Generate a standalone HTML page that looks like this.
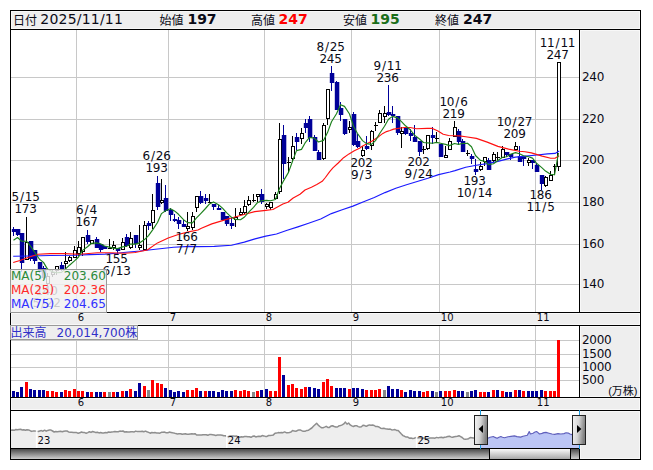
<!DOCTYPE html>
<html lang="ja"><head><meta charset="utf-8"><title>Chart</title>
<style>html,body{margin:0;padding:0;background:#fff}svg{display:block}text{font-family:'DejaVu Sans','Liberation Sans','Noto Sans CJK JP',sans-serif}.j{font-family:'Liberation Sans','Noto Sans CJK JP',sans-serif}.cr{shape-rendering:crispEdges}</style></head><body>
<svg width="653" height="470" viewBox="0 0 653 470" fill="#0a0a16">
<defs>
<linearGradient id="gt" x1="0" y1="0" x2="0" y2="1"><stop offset="0" stop-color="#4a4a4a"/><stop offset="1" stop-color="#cfcfcf"/></linearGradient>
<linearGradient id="gth" x1="0" y1="0" x2="0" y2="1"><stop offset="0" stop-color="#fafafa"/><stop offset="1" stop-color="#a8a8a8"/></linearGradient>
<linearGradient id="gh" x1="0" y1="0" x2="1" y2="0.2"><stop offset="0" stop-color="#f6f6f6"/><stop offset="0.5" stop-color="#d6d6d6"/><stop offset="1" stop-color="#7e7e7e"/></linearGradient>
<clipPath id="cm"><rect x="11" y="30" width="568" height="282"/></clipPath>
</defs>
<rect width="653" height="470" fill="#fff"/>
<g class="cr">
<rect x="10" y="10" width="631" height="450" fill="#000"/>
<rect x="11" y="11" width="629" height="18" fill="#eee"/>
<rect x="11" y="30" width="568" height="282" fill="#fff"/>
<rect x="580" y="30" width="60" height="282" fill="#eee"/>
<rect x="11" y="313" width="629" height="12" fill="#eee"/>
<rect x="11" y="326" width="568" height="71" fill="#fff"/>
<rect x="580" y="326" width="60" height="71" fill="#eee"/>
<rect x="11" y="398" width="629" height="12" fill="#eee"/>
<rect x="11" y="411" width="568" height="37" fill="#fff"/>
<rect x="580" y="411" width="60" height="48" fill="#eee"/>
<rect x="11" y="449" width="568" height="10" fill="url(#gt)"/>
</g>
<g class="cr" fill="none" stroke="#fff" stroke-opacity="0.6">
<rect x="11.5" y="11.5" width="628" height="17"/>
<rect x="580.5" y="30.5" width="59" height="281"/>
<rect x="11.5" y="313.5" width="628" height="11"/>
<rect x="580.5" y="326.5" width="59" height="70"/>
<rect x="11.5" y="398.5" width="628" height="11"/>
<rect x="580.5" y="411.5" width="59" height="47"/>
</g>
<g class="cr" fill="#c8c8c8">
<rect x="11" y="77" width="568" height="1"/>
<rect x="11" y="119" width="568" height="1"/>
<rect x="11" y="160" width="568" height="1"/>
<rect x="11" y="202" width="568" height="1"/>
<rect x="11" y="244" width="568" height="1"/>
<rect x="11" y="284" width="568" height="1"/>
<rect x="11" y="380" width="568" height="1"/>
<rect x="11" y="367" width="568" height="1"/>
<rect x="11" y="354" width="568" height="1"/>
<rect x="11" y="340" width="568" height="1"/>
<rect x="76" y="30" width="1" height="282"/>
<rect x="76" y="326" width="1" height="71"/>
<rect x="168" y="30" width="1" height="282"/>
<rect x="168" y="326" width="1" height="71"/>
<rect x="264" y="30" width="1" height="282"/>
<rect x="264" y="326" width="1" height="71"/>
<rect x="351" y="30" width="1" height="282"/>
<rect x="351" y="326" width="1" height="71"/>
<rect x="439" y="30" width="1" height="282"/>
<rect x="439" y="326" width="1" height="71"/>
<rect x="535" y="30" width="1" height="282"/>
<rect x="535" y="326" width="1" height="71"/>
</g>
<g class="cr" clip-path="url(#cm)">
<rect x="13" y="227" width="1" height="9" fill="#000099"/>
<rect x="11.8" y="229" width="4.5" height="3" fill="#000099" shape-rendering="auto"/>
<rect x="17" y="229" width="1" height="7" fill="#000099"/>
<rect x="15.8" y="229" width="4.5" height="6" fill="#000099" shape-rendering="auto"/>
<rect x="21" y="233" width="1" height="39" fill="#000099"/>
<rect x="19.8" y="233" width="4.5" height="30" fill="#000099" shape-rendering="auto"/>
<rect x="26" y="217" width="1" height="43" fill="#000"/>
<rect x="25" y="242" width="4" height="18" fill="#000"/>
<rect x="26" y="243" width="2" height="16" fill="#fff"/>
<rect x="30" y="241" width="1" height="20" fill="#000099"/>
<rect x="28.8" y="241" width="4.5" height="18" fill="#000099" shape-rendering="auto"/>
<rect x="34" y="250" width="1" height="14" fill="#000099"/>
<rect x="32.8" y="250" width="4.5" height="11" fill="#000099" shape-rendering="auto"/>
<rect x="39" y="262" width="1" height="11" fill="#000099"/>
<rect x="37.8" y="262" width="4.5" height="10" fill="#000099" shape-rendering="auto"/>
<rect x="43" y="266" width="1" height="13" fill="#000099"/>
<rect x="41.8" y="268" width="4.5" height="10" fill="#000099" shape-rendering="auto"/>
<rect x="47" y="273" width="1" height="12" fill="#000"/>
<rect x="46" y="276" width="4" height="8" fill="#000"/>
<rect x="47" y="277" width="2" height="6" fill="#fff"/>
<rect x="52" y="270" width="1" height="7" fill="#000"/>
<rect x="51" y="272" width="4" height="3" fill="#000"/>
<rect x="52" y="273" width="2" height="1" fill="#fff"/>
<rect x="56" y="266" width="1" height="9" fill="#000"/>
<rect x="55" y="266" width="4" height="5" fill="#000"/>
<rect x="56" y="267" width="2" height="3" fill="#fff"/>
<rect x="61" y="262" width="1" height="9" fill="#000099"/>
<rect x="59.8" y="265" width="4.5" height="5" fill="#000099" shape-rendering="auto"/>
<rect x="65" y="252" width="1" height="17" fill="#000"/>
<rect x="64" y="261" width="4" height="3" fill="#000"/>
<rect x="65" y="262" width="2" height="1" fill="#fff"/>
<rect x="69" y="256" width="1" height="6" fill="#000"/>
<rect x="68" y="257" width="4" height="4" fill="#000"/>
<rect x="69" y="258" width="2" height="2" fill="#fff"/>
<rect x="74" y="246" width="1" height="12" fill="#000"/>
<rect x="73" y="250" width="4" height="8" fill="#000"/>
<rect x="74" y="251" width="2" height="6" fill="#fff"/>
<rect x="78" y="241" width="1" height="15" fill="#000"/>
<rect x="77" y="247" width="4" height="7" fill="#000"/>
<rect x="78" y="248" width="2" height="5" fill="#fff"/>
<rect x="82" y="237" width="1" height="19" fill="#000"/>
<rect x="81" y="237" width="4" height="15" fill="#000"/>
<rect x="82" y="238" width="2" height="13" fill="#fff"/>
<rect x="87" y="230" width="1" height="14" fill="#000099"/>
<rect x="85.8" y="235" width="4.5" height="7" fill="#000099" shape-rendering="auto"/>
<rect x="91" y="240" width="1" height="4" fill="#000"/>
<rect x="90" y="240" width="4" height="4" fill="#000"/>
<rect x="91" y="241" width="2" height="2" fill="#fff"/>
<rect x="96" y="237" width="1" height="11" fill="#000099"/>
<rect x="94.8" y="239" width="4.5" height="9" fill="#000099" shape-rendering="auto"/>
<rect x="100" y="244" width="1" height="8" fill="#000099"/>
<rect x="98.8" y="244" width="4.5" height="6" fill="#000099" shape-rendering="auto"/>
<rect x="104" y="246" width="1" height="3" fill="#000099"/>
<rect x="102.8" y="246" width="4.5" height="3" fill="#000099" shape-rendering="auto"/>
<rect x="109" y="239" width="1" height="10" fill="#000"/>
<rect x="108" y="248" width="4" height="1" fill="#000"/>
<rect x="113" y="241" width="1" height="9" fill="#000"/>
<rect x="112" y="245" width="4" height="3" fill="#000"/>
<rect x="113" y="246" width="2" height="1" fill="#fff"/>
<rect x="117" y="248" width="1" height="6" fill="#000099"/>
<rect x="115.8" y="248" width="4.5" height="3" fill="#000099" shape-rendering="auto"/>
<rect x="122" y="238" width="1" height="12" fill="#000"/>
<rect x="121" y="242" width="4" height="8" fill="#000"/>
<rect x="122" y="243" width="2" height="6" fill="#fff"/>
<rect x="126" y="234" width="1" height="13" fill="#000099"/>
<rect x="124.8" y="237" width="4.5" height="9" fill="#000099" shape-rendering="auto"/>
<rect x="130" y="232" width="1" height="17" fill="#000"/>
<rect x="129" y="238" width="4" height="10" fill="#000"/>
<rect x="130" y="239" width="2" height="8" fill="#fff"/>
<rect x="135" y="235" width="1" height="13" fill="#000099"/>
<rect x="133.8" y="235" width="4.5" height="9" fill="#000099" shape-rendering="auto"/>
<rect x="139" y="225" width="1" height="25" fill="#000"/>
<rect x="138" y="245" width="4" height="3" fill="#000"/>
<rect x="139" y="246" width="2" height="1" fill="#fff"/>
<rect x="144" y="221" width="1" height="29" fill="#000"/>
<rect x="143" y="225" width="4" height="25" fill="#000"/>
<rect x="144" y="226" width="2" height="23" fill="#fff"/>
<rect x="148" y="221" width="1" height="9" fill="#000099"/>
<rect x="146.8" y="223" width="4.5" height="3" fill="#000099" shape-rendering="auto"/>
<rect x="152" y="194" width="1" height="35" fill="#000"/>
<rect x="151" y="210" width="4" height="13" fill="#000"/>
<rect x="152" y="211" width="2" height="11" fill="#fff"/>
<rect x="157" y="176" width="1" height="34" fill="#000099"/>
<rect x="155.8" y="183" width="4.5" height="24" fill="#000099" shape-rendering="auto"/>
<rect x="161" y="179" width="1" height="25" fill="#000"/>
<rect x="160" y="200" width="4" height="3" fill="#000"/>
<rect x="161" y="201" width="2" height="1" fill="#fff"/>
<rect x="165" y="185" width="1" height="27" fill="#000099"/>
<rect x="163.8" y="198" width="4.5" height="13" fill="#000099" shape-rendering="auto"/>
<rect x="170" y="208" width="1" height="13" fill="#000099"/>
<rect x="168.8" y="210" width="4.5" height="5" fill="#000099" shape-rendering="auto"/>
<rect x="174" y="214" width="1" height="8" fill="#000099"/>
<rect x="172.8" y="219" width="4.5" height="2" fill="#000099" shape-rendering="auto"/>
<rect x="178" y="217" width="1" height="12" fill="#000099"/>
<rect x="176.8" y="220" width="4.5" height="4" fill="#000099" shape-rendering="auto"/>
<rect x="183" y="220" width="1" height="7" fill="#000099"/>
<rect x="181.8" y="224" width="4.5" height="3" fill="#000099" shape-rendering="auto"/>
<rect x="187" y="212" width="1" height="19" fill="#000"/>
<rect x="186" y="226" width="4" height="3" fill="#000"/>
<rect x="187" y="227" width="2" height="1" fill="#fff"/>
<rect x="192" y="212" width="1" height="18" fill="#000"/>
<rect x="191" y="216" width="4" height="12" fill="#000"/>
<rect x="192" y="217" width="2" height="10" fill="#fff"/>
<rect x="196" y="196" width="1" height="16" fill="#000"/>
<rect x="195" y="196" width="4" height="12" fill="#000"/>
<rect x="196" y="197" width="2" height="10" fill="#fff"/>
<rect x="200" y="191" width="1" height="13" fill="#000099"/>
<rect x="198.8" y="196" width="4.5" height="7" fill="#000099" shape-rendering="auto"/>
<rect x="205" y="194" width="1" height="10" fill="#000099"/>
<rect x="203.8" y="198" width="4.5" height="3" fill="#000099" shape-rendering="auto"/>
<rect x="209" y="194" width="1" height="9" fill="#000"/>
<rect x="208" y="202" width="4" height="1" fill="#000"/>
<rect x="213" y="204" width="1" height="6" fill="#000099"/>
<rect x="211.8" y="204" width="4.5" height="3" fill="#000099" shape-rendering="auto"/>
<rect x="218" y="205" width="1" height="5" fill="#000099"/>
<rect x="216.8" y="208" width="4.5" height="2" fill="#000099" shape-rendering="auto"/>
<rect x="222" y="212" width="1" height="8" fill="#000099"/>
<rect x="220.8" y="212" width="4.5" height="8" fill="#000099" shape-rendering="auto"/>
<rect x="226" y="216" width="1" height="10" fill="#000099"/>
<rect x="224.8" y="216" width="4.5" height="8" fill="#000099" shape-rendering="auto"/>
<rect x="231" y="218" width="1" height="11" fill="#000099"/>
<rect x="229.8" y="223" width="4.5" height="3" fill="#000099" shape-rendering="auto"/>
<rect x="235" y="208" width="1" height="19" fill="#000"/>
<rect x="234" y="217" width="4" height="3" fill="#000"/>
<rect x="235" y="218" width="2" height="1" fill="#fff"/>
<rect x="240" y="208" width="1" height="8" fill="#000"/>
<rect x="239" y="212" width="4" height="3" fill="#000"/>
<rect x="240" y="213" width="2" height="1" fill="#fff"/>
<rect x="244" y="200" width="1" height="14" fill="#000"/>
<rect x="243" y="206" width="4" height="7" fill="#000"/>
<rect x="244" y="207" width="2" height="5" fill="#fff"/>
<rect x="248" y="196" width="1" height="10" fill="#000"/>
<rect x="247" y="200" width="4" height="5" fill="#000"/>
<rect x="248" y="201" width="2" height="3" fill="#fff"/>
<rect x="253" y="194" width="1" height="8" fill="#000"/>
<rect x="252" y="200" width="4" height="1" fill="#000"/>
<rect x="257" y="194" width="1" height="8" fill="#000"/>
<rect x="256" y="194" width="4" height="3" fill="#000"/>
<rect x="257" y="195" width="2" height="1" fill="#fff"/>
<rect x="261" y="189" width="1" height="15" fill="#000099"/>
<rect x="259.8" y="194" width="4.5" height="8" fill="#000099" shape-rendering="auto"/>
<rect x="266" y="203" width="1" height="6" fill="#000"/>
<rect x="265" y="204" width="4" height="3" fill="#000"/>
<rect x="266" y="205" width="2" height="1" fill="#fff"/>
<rect x="270" y="202" width="1" height="8" fill="#000"/>
<rect x="269" y="202" width="4" height="6" fill="#000"/>
<rect x="270" y="203" width="2" height="4" fill="#fff"/>
<rect x="275" y="192" width="1" height="8" fill="#000"/>
<rect x="274" y="194" width="4" height="5" fill="#000"/>
<rect x="275" y="195" width="2" height="3" fill="#fff"/>
<rect x="279" y="123" width="1" height="71" fill="#000"/>
<rect x="278" y="139" width="4" height="53" fill="#000"/>
<rect x="279" y="140" width="2" height="51" fill="#fff"/>
<rect x="283" y="125" width="1" height="54" fill="#000099"/>
<rect x="281.8" y="135" width="4.5" height="29" fill="#000099" shape-rendering="auto"/>
<rect x="288" y="157" width="1" height="15" fill="#000"/>
<rect x="287" y="162" width="4" height="1" fill="#000"/>
<rect x="292" y="136" width="1" height="26" fill="#000"/>
<rect x="291" y="146" width="4" height="13" fill="#000"/>
<rect x="292" y="147" width="2" height="11" fill="#fff"/>
<rect x="296" y="133" width="1" height="17" fill="#000099"/>
<rect x="294.8" y="137" width="4.5" height="5" fill="#000099" shape-rendering="auto"/>
<rect x="301" y="128" width="1" height="16" fill="#000"/>
<rect x="300" y="133" width="4" height="6" fill="#000"/>
<rect x="301" y="134" width="2" height="4" fill="#fff"/>
<rect x="305" y="119" width="1" height="14" fill="#000099"/>
<rect x="303.8" y="123" width="4.5" height="5" fill="#000099" shape-rendering="auto"/>
<rect x="309" y="116" width="1" height="26" fill="#000099"/>
<rect x="307.8" y="119" width="4.5" height="19" fill="#000099" shape-rendering="auto"/>
<rect x="314" y="135" width="1" height="16" fill="#000099"/>
<rect x="312.8" y="137" width="4.5" height="14" fill="#000099" shape-rendering="auto"/>
<rect x="318" y="150" width="1" height="10" fill="#000099"/>
<rect x="316.8" y="152" width="4.5" height="8" fill="#000099" shape-rendering="auto"/>
<rect x="323" y="123" width="1" height="37" fill="#000"/>
<rect x="322" y="125" width="4" height="34" fill="#000"/>
<rect x="323" y="126" width="2" height="32" fill="#fff"/>
<rect x="327" y="89" width="1" height="36" fill="#000"/>
<rect x="326" y="89" width="4" height="30" fill="#000"/>
<rect x="327" y="90" width="2" height="28" fill="#fff"/>
<rect x="331" y="66" width="1" height="25" fill="#000099"/>
<rect x="329.8" y="73" width="4.5" height="10" fill="#000099" shape-rendering="auto"/>
<rect x="336" y="81" width="1" height="29" fill="#000099"/>
<rect x="334.8" y="82" width="4.5" height="28" fill="#000099" shape-rendering="auto"/>
<rect x="340" y="102" width="1" height="19" fill="#000099"/>
<rect x="338.8" y="108" width="4.5" height="7" fill="#000099" shape-rendering="auto"/>
<rect x="344" y="119" width="1" height="16" fill="#000099"/>
<rect x="342.8" y="119" width="4.5" height="15" fill="#000099" shape-rendering="auto"/>
<rect x="349" y="121" width="1" height="12" fill="#000"/>
<rect x="348" y="127" width="4" height="3" fill="#000"/>
<rect x="349" y="128" width="2" height="1" fill="#fff"/>
<rect x="353" y="112" width="1" height="34" fill="#000099"/>
<rect x="351.8" y="114" width="4.5" height="31" fill="#000099" shape-rendering="auto"/>
<rect x="357" y="134" width="1" height="14" fill="#000099"/>
<rect x="355.8" y="141" width="4.5" height="6" fill="#000099" shape-rendering="auto"/>
<rect x="362" y="146" width="1" height="11" fill="#000"/>
<rect x="361" y="150" width="4" height="6" fill="#000"/>
<rect x="362" y="151" width="2" height="4" fill="#fff"/>
<rect x="366" y="136" width="1" height="14" fill="#000099"/>
<rect x="364.8" y="146" width="4.5" height="3" fill="#000099" shape-rendering="auto"/>
<rect x="371" y="130" width="1" height="20" fill="#000"/>
<rect x="370" y="131" width="4" height="15" fill="#000"/>
<rect x="371" y="132" width="2" height="13" fill="#fff"/>
<rect x="375" y="122" width="1" height="9" fill="#000"/>
<rect x="374" y="125" width="4" height="1" fill="#000"/>
<rect x="379" y="110" width="1" height="13" fill="#000"/>
<rect x="378" y="113" width="4" height="10" fill="#000"/>
<rect x="379" y="114" width="2" height="8" fill="#fff"/>
<rect x="384" y="106" width="1" height="17" fill="#000"/>
<rect x="383" y="113" width="4" height="4" fill="#000"/>
<rect x="384" y="114" width="2" height="2" fill="#fff"/>
<rect x="388" y="85" width="1" height="31" fill="#000099"/>
<rect x="386.8" y="112" width="4.5" height="3" fill="#000099" shape-rendering="auto"/>
<rect x="392" y="106" width="1" height="17" fill="#000099"/>
<rect x="390.8" y="114" width="4.5" height="2" fill="#000099" shape-rendering="auto"/>
<rect x="397" y="116" width="1" height="19" fill="#000099"/>
<rect x="395.8" y="116" width="4.5" height="17" fill="#000099" shape-rendering="auto"/>
<rect x="401" y="127" width="1" height="21" fill="#000"/>
<rect x="400" y="131" width="4" height="3" fill="#000"/>
<rect x="401" y="132" width="2" height="1" fill="#fff"/>
<rect x="405" y="127" width="1" height="8" fill="#000099"/>
<rect x="403.8" y="127" width="4.5" height="7" fill="#000099" shape-rendering="auto"/>
<rect x="410" y="129" width="1" height="12" fill="#000099"/>
<rect x="408.8" y="133" width="4.5" height="3" fill="#000099" shape-rendering="auto"/>
<rect x="414" y="125" width="1" height="17" fill="#000099"/>
<rect x="412.8" y="137" width="4.5" height="5" fill="#000099" shape-rendering="auto"/>
<rect x="419" y="141" width="1" height="15" fill="#000099"/>
<rect x="417.8" y="141" width="4.5" height="11" fill="#000099" shape-rendering="auto"/>
<rect x="423" y="146" width="1" height="8" fill="#000"/>
<rect x="422" y="149" width="4" height="1" fill="#000"/>
<rect x="427" y="135" width="1" height="15" fill="#000"/>
<rect x="426" y="135" width="4" height="14" fill="#000"/>
<rect x="427" y="136" width="2" height="12" fill="#fff"/>
<rect x="432" y="127" width="1" height="17" fill="#000099"/>
<rect x="430.8" y="135" width="4.5" height="3" fill="#000099" shape-rendering="auto"/>
<rect x="436" y="132" width="1" height="10" fill="#000"/>
<rect x="435" y="138" width="4" height="1" fill="#000"/>
<rect x="440" y="144" width="1" height="13" fill="#000099"/>
<rect x="438.8" y="144" width="4.5" height="13" fill="#000099" shape-rendering="auto"/>
<rect x="445" y="146" width="1" height="10" fill="#000"/>
<rect x="444" y="155" width="4" height="3" fill="#000"/>
<rect x="445" y="156" width="2" height="1" fill="#fff"/>
<rect x="449" y="138" width="1" height="12" fill="#000"/>
<rect x="448" y="141" width="4" height="9" fill="#000"/>
<rect x="449" y="142" width="2" height="7" fill="#fff"/>
<rect x="454" y="121" width="1" height="16" fill="#000"/>
<rect x="453" y="127" width="4" height="10" fill="#000"/>
<rect x="454" y="128" width="2" height="8" fill="#fff"/>
<rect x="458" y="129" width="1" height="15" fill="#000099"/>
<rect x="456.8" y="131" width="4.5" height="11" fill="#000099" shape-rendering="auto"/>
<rect x="462" y="139" width="1" height="13" fill="#000099"/>
<rect x="460.8" y="141" width="4.5" height="11" fill="#000099" shape-rendering="auto"/>
<rect x="467" y="150" width="1" height="6" fill="#000"/>
<rect x="466" y="153" width="4" height="1" fill="#000"/>
<rect x="471" y="154" width="1" height="10" fill="#000099"/>
<rect x="469.8" y="156" width="4.5" height="3" fill="#000099" shape-rendering="auto"/>
<rect x="475" y="159" width="1" height="16" fill="#000099"/>
<rect x="473.8" y="169" width="4.5" height="3" fill="#000099" shape-rendering="auto"/>
<rect x="480" y="162" width="1" height="9" fill="#000"/>
<rect x="479" y="166" width="4" height="4" fill="#000"/>
<rect x="480" y="167" width="2" height="2" fill="#fff"/>
<rect x="484" y="157" width="1" height="9" fill="#000"/>
<rect x="483" y="157" width="4" height="5" fill="#000"/>
<rect x="484" y="158" width="2" height="3" fill="#fff"/>
<rect x="488" y="158" width="1" height="12" fill="#000099"/>
<rect x="486.8" y="160" width="4.5" height="10" fill="#000099" shape-rendering="auto"/>
<rect x="493" y="152" width="1" height="10" fill="#000"/>
<rect x="492" y="154" width="4" height="7" fill="#000"/>
<rect x="493" y="155" width="2" height="5" fill="#fff"/>
<rect x="497" y="152" width="1" height="8" fill="#000"/>
<rect x="496" y="157" width="4" height="1" fill="#000"/>
<rect x="502" y="146" width="1" height="12" fill="#000"/>
<rect x="501" y="149" width="4" height="9" fill="#000"/>
<rect x="502" y="150" width="2" height="7" fill="#fff"/>
<rect x="506" y="152" width="1" height="5" fill="#000099"/>
<rect x="504.8" y="152" width="4.5" height="3" fill="#000099" shape-rendering="auto"/>
<rect x="510" y="154" width="1" height="6" fill="#000099"/>
<rect x="508.8" y="154" width="4.5" height="3" fill="#000099" shape-rendering="auto"/>
<rect x="515" y="142" width="1" height="9" fill="#000"/>
<rect x="514" y="146" width="4" height="4" fill="#000"/>
<rect x="515" y="147" width="2" height="2" fill="#fff"/>
<rect x="519" y="146" width="1" height="16" fill="#000099"/>
<rect x="517.8" y="156" width="4.5" height="6" fill="#000099" shape-rendering="auto"/>
<rect x="523" y="156" width="1" height="10" fill="#000099"/>
<rect x="521.8" y="156" width="4.5" height="3" fill="#000099" shape-rendering="auto"/>
<rect x="528" y="158" width="1" height="8" fill="#000"/>
<rect x="527" y="160" width="4" height="3" fill="#000"/>
<rect x="528" y="161" width="2" height="1" fill="#fff"/>
<rect x="532" y="160" width="1" height="9" fill="#000099"/>
<rect x="530.8" y="160" width="4.5" height="3" fill="#000099" shape-rendering="auto"/>
<rect x="536" y="163" width="1" height="9" fill="#000099"/>
<rect x="534.8" y="165" width="4.5" height="7" fill="#000099" shape-rendering="auto"/>
<rect x="541" y="175" width="1" height="15" fill="#000099"/>
<rect x="539.8" y="175" width="4.5" height="9" fill="#000099" shape-rendering="auto"/>
<rect x="545" y="176" width="1" height="11" fill="#000"/>
<rect x="544" y="177" width="4" height="9" fill="#000"/>
<rect x="545" y="178" width="2" height="7" fill="#fff"/>
<rect x="550" y="171" width="1" height="10" fill="#000"/>
<rect x="549" y="175" width="4" height="6" fill="#000"/>
<rect x="550" y="176" width="2" height="4" fill="#fff"/>
<rect x="554" y="164" width="1" height="10" fill="#000"/>
<rect x="553" y="166" width="4" height="1" fill="#000"/>
<rect x="558" y="62" width="1" height="109" fill="#000"/>
<rect x="557" y="62" width="4" height="105" fill="#000"/>
<rect x="558" y="63" width="2" height="103" fill="#fff"/>
</g>
<g clip-path="url(#cm)">
<polyline fill="none" stroke="#1a1aff" stroke-width="1.15" stroke-linejoin="round"  points="13.2,256.3 30,256 50,255.5 74,255.2 90,254.6 105,254.1 117,253.2 126,252.2 140,251 155.4,249.3 173.6,247.2 189.7,246.4 197.2,246.6 214.3,246.4 231.5,245.3 244.3,242.1 255,238.9 265.8,236.1 276.5,234 287.2,230.3 297.9,226.9 308.6,223.3 320.7,219 331.4,213.6 342.2,209.8 352.9,206.1 363.6,201.8 374.3,197.5 385,192.6 395.8,188.3 406.5,184.7 417.2,181.5 427.9,178.2 438.6,174.6 450,172 455,170.6 465.7,167.3 476.4,165.2 487.2,163.6 497.9,161.4 508.6,158.6 515.4,157.1 526.1,156.1 536.8,155 547.5,153.9 555,153.4 559.2,151.1"/>
<polyline fill="none" stroke="#ff1010" stroke-width="1.15" stroke-linejoin="round"  points="13.2,262.5 20,260.5 28,257.5 37.9,254.2 50,253.6 63.6,253.6 80,254.2 97.4,252.8 110,252.7 125,253.2 135,252.5 147.3,250 157.5,242.9 168.2,238 179,234.3 189.7,231.6 197.9,230 201.4,228.2 211.8,223.9 222.5,220.6 233.2,217.5 244,214.5 254.7,211.6 265.8,210.4 272.9,209.5 282.9,204 287.9,202.3 293.2,198 300,194.3 305,190 311.4,187.2 316.8,184.5 322.2,181.3 325.4,177.5 329.7,171.6 332.9,167.9 338.2,163 343.6,157.7 349,153.9 354.3,150.7 360,148 361.4,146.8 368.2,142.9 372.2,140.9 379,136.4 382.9,133.4 386.5,131.6 390,130.5 393.6,129.1 404.3,127.5 410,127.5 416.4,128.7 427.2,128.4 432.5,128.4 437.9,131.1 443.2,134.3 448.6,135.5 459.3,135.9 465.7,136.8 476.4,138.4 487.2,142.1 497.9,146.4 508.6,149.1 519.3,151.3 525,151.8 531.4,152.9 542.2,156.1 550.7,158.2 555,158.2 559.2,155.8"/>
<polyline fill="none" stroke="#1c801c" stroke-width="1.15" stroke-linejoin="round"  points="13.5,240.2 17.5,237.5 21.5,241.2 26.5,241.2 30.5,246.2 34.5,252 39.5,259.3 43.5,262.4 47.5,269.1 52.5,271.7 56.5,272.8 61.5,272.4 65.5,268.9 69.5,265.2 74.5,260.9 78.5,257 82.5,250.4 87.5,246.8 91.5,243.3 96.5,242.9 100.5,243.7 104.5,246 109.5,247.1 113.5,248.1 117.5,248.6 122.5,246.9 126.5,246.2 130.5,244.1 135.5,244.1 139.5,242.9 144.5,239.6 148.5,235.6 152.5,230.1 157.5,222.5 161.5,213.6 165.5,210.8 170.5,208.7 174.5,210.9 178.5,214.3 183.5,219.7 187.5,222.6 192.5,222.9 196.5,217.9 200.5,213.8 205.5,208.5 209.5,203.9 213.5,201.9 218.5,204.7 222.5,208.1 226.5,212.7 231.5,217.3 235.5,219.4 240.5,219.7 244.5,217 248.5,212.3 253.5,207.3 257.5,202.7 261.5,200.7 266.5,200.4 270.5,200.8 275.5,199.5 279.5,188.5 283.5,180.9 288.5,172.4 292.5,161.2 296.5,150.6 301.5,149.4 305.5,142.3 309.5,137.4 314.5,138.3 318.5,142 323.5,140.4 327.5,132.6 331.5,121.8 336.5,113.7 340.5,104.7 344.5,106.4 349.5,114 353.5,126.3 357.5,133.5 362.5,140.6 366.5,143.6 371.5,144.4 375.5,140.6 379.5,133.7 384.5,126.2 388.5,119.3 392.5,116.4 397.5,117.9 401.5,121.6 405.5,125.8 410.5,130 414.5,135.1 419.5,139 423.5,142.5 427.5,142.9 432.5,143.3 436.5,142.4 440.5,143.3 445.5,144.4 449.5,145.6 454.5,143.5 458.5,144.4 462.5,143.5 467.5,143.2 471.5,146.7 475.5,155.5 480.5,160.4 484.5,161.2 488.5,164.6 493.5,163.7 497.5,160.7 502.5,157.2 506.5,156.8 510.5,154.3 515.5,152.6 519.5,153.8 523.5,155.8 528.5,156.8 532.5,158.1 536.5,163.1 541.5,167.4 545.5,171.1 550.5,174.2 554.5,174.8 558.5,153"/>
</g>
<g font-size="12" text-anchor="middle" letter-spacing="-0.25">
<text x="25.5" y="201">5<tspan dx="1.1">/</tspan><tspan dx="1.1">15</tspan></text>
<text x="25.5" y="213">173</text>
<text x="86.5" y="214">6<tspan dx="1.1">/</tspan><tspan dx="1.1">4</tspan></text>
<text x="86.5" y="226">167</text>
<text x="116.5" y="263.4">155</text>
<text x="116.5" y="275.4">6<tspan dx="1.1">/</tspan><tspan dx="1.1">13</tspan></text>
<text x="156.5" y="160.1">6<tspan dx="1.1">/</tspan><tspan dx="1.1">26</tspan></text>
<text x="156.5" y="172.1">193</text>
<text x="186.5" y="240.5">166</text>
<text x="186.5" y="252.5">7<tspan dx="1.1">/</tspan><tspan dx="1.1">7</tspan></text>
<text x="330.5" y="50.7">8<tspan dx="1.1">/</tspan><tspan dx="1.1">25</tspan></text>
<text x="330.5" y="62.7">245</text>
<text x="361.5" y="166.5">202</text>
<text x="361.5" y="178.5">9<tspan dx="1.1">/</tspan><tspan dx="1.1">3</tspan></text>
<text x="387.5" y="69.6">9<tspan dx="1.1">/</tspan><tspan dx="1.1">11</tspan></text>
<text x="387.5" y="81.6">236</text>
<text x="418.5" y="165.8">202</text>
<text x="418.5" y="177.8">9<tspan dx="1.1">/</tspan><tspan dx="1.1">24</tspan></text>
<text x="453.5" y="105.8">10<tspan dx="1.1">/</tspan><tspan dx="1.1">6</tspan></text>
<text x="453.5" y="117.8">219</text>
<text x="474.5" y="184.5">193</text>
<text x="474.5" y="196.5">10<tspan dx="1.1">/</tspan><tspan dx="1.1">14</tspan></text>
<text x="514.5" y="125.9">10<tspan dx="1.1">/</tspan><tspan dx="1.1">27</tspan></text>
<text x="514.5" y="137.9">209</text>
<text x="540.5" y="199">186</text>
<text x="540.5" y="211">11<tspan dx="1.1">/</tspan><tspan dx="1.1">5</tspan></text>
<text x="557.5" y="46.9">11<tspan dx="1.1">/</tspan><tspan dx="1.1">11</tspan></text>
<text x="557.5" y="58.9">247</text>
<text x="46.5" y="294.5">140</text>
<text x="46.5" y="306.5">5<tspan dx="1.1">/</tspan><tspan dx="1.1">22</tspan></text>
</g>
<g class="cr"><rect x="11" y="270" width="95" height="42" fill="#f0f0f0" fill-opacity="0.83"/>
<path fill-rule="evenodd" fill="#999" d="M10,269h97v44h-97z M11,270h95v42h-95z"/></g>
<g font-size="12">
<text x="10.9" y="279.9" fill="#2a8a3a">MA(5)</text>
<text x="105.8" y="279.9" fill="#2a8a3a" text-anchor="end">203.60</text>
<text x="10.9" y="293.9" fill="#ff2a2a">MA(25)</text>
<text x="105.8" y="293.9" fill="#ff2a2a" text-anchor="end">202.36</text>
<text x="10.9" y="307.9" fill="#3030ff">MA(75)</text>
<text x="105.8" y="307.9" fill="#3030ff" text-anchor="end">204.65</text>
</g>
<g class="cr">
<rect x="12" y="391" width="3" height="6" fill="#000099"/>
<rect x="16" y="392" width="3" height="5" fill="#000099"/>
<rect x="20" y="387" width="3" height="10" fill="#000099"/>
<rect x="25" y="382" width="3" height="15" fill="#ff0000"/>
<rect x="29" y="389" width="3" height="8" fill="#000099"/>
<rect x="33" y="390" width="3" height="7" fill="#000099"/>
<rect x="38" y="390" width="3" height="7" fill="#000099"/>
<rect x="42" y="390" width="3" height="7" fill="#000099"/>
<rect x="46" y="391" width="3" height="6" fill="#ff0000"/>
<rect x="51" y="391" width="3" height="6" fill="#ff0000"/>
<rect x="55" y="392" width="3" height="5" fill="#ff0000"/>
<rect x="60" y="392" width="3" height="5" fill="#000099"/>
<rect x="64" y="390" width="3" height="7" fill="#ff0000"/>
<rect x="68" y="391" width="3" height="6" fill="#ff0000"/>
<rect x="73" y="389" width="3" height="8" fill="#ff0000"/>
<rect x="77" y="391" width="3" height="6" fill="#ff0000"/>
<rect x="81" y="391" width="3" height="6" fill="#ff0000"/>
<rect x="86" y="392" width="3" height="5" fill="#000099"/>
<rect x="90" y="392" width="3" height="5" fill="#ff0000"/>
<rect x="95" y="392" width="3" height="5" fill="#000099"/>
<rect x="99" y="392" width="3" height="5" fill="#000099"/>
<rect x="103" y="392" width="3" height="5" fill="#ff0000"/>
<rect x="108" y="392" width="3" height="5" fill="#888888"/>
<rect x="112" y="392" width="3" height="5" fill="#ff0000"/>
<rect x="116" y="392" width="3" height="5" fill="#000099"/>
<rect x="121" y="391" width="3" height="6" fill="#ff0000"/>
<rect x="125" y="391" width="3" height="6" fill="#000099"/>
<rect x="129" y="389" width="3" height="8" fill="#ff0000"/>
<rect x="134" y="391" width="3" height="6" fill="#000099"/>
<rect x="138" y="383" width="3" height="14" fill="#000099"/>
<rect x="143" y="386" width="3" height="11" fill="#ff0000"/>
<rect x="147" y="390" width="3" height="7" fill="#888888"/>
<rect x="151" y="380" width="3" height="17" fill="#ff0000"/>
<rect x="156" y="383" width="3" height="14" fill="#ff0000"/>
<rect x="160" y="384" width="3" height="13" fill="#ff0000"/>
<rect x="164" y="388" width="3" height="9" fill="#000099"/>
<rect x="169" y="390" width="3" height="7" fill="#000099"/>
<rect x="173" y="392" width="3" height="5" fill="#000099"/>
<rect x="177" y="391" width="3" height="6" fill="#000099"/>
<rect x="182" y="392" width="3" height="5" fill="#000099"/>
<rect x="186" y="390" width="3" height="7" fill="#ff0000"/>
<rect x="191" y="390" width="3" height="7" fill="#ff0000"/>
<rect x="195" y="388" width="3" height="9" fill="#ff0000"/>
<rect x="199" y="391" width="3" height="6" fill="#000099"/>
<rect x="204" y="391" width="3" height="6" fill="#ff0000"/>
<rect x="208" y="391" width="3" height="6" fill="#000099"/>
<rect x="212" y="391" width="3" height="6" fill="#000099"/>
<rect x="217" y="392" width="3" height="5" fill="#000099"/>
<rect x="221" y="390" width="3" height="7" fill="#000099"/>
<rect x="225" y="391" width="3" height="6" fill="#000099"/>
<rect x="230" y="391" width="3" height="6" fill="#000099"/>
<rect x="234" y="390" width="3" height="7" fill="#ff0000"/>
<rect x="239" y="391" width="3" height="6" fill="#ff0000"/>
<rect x="243" y="390" width="3" height="7" fill="#ff0000"/>
<rect x="247" y="391" width="3" height="6" fill="#ff0000"/>
<rect x="252" y="392" width="3" height="5" fill="#888888"/>
<rect x="256" y="391" width="3" height="6" fill="#ff0000"/>
<rect x="260" y="390" width="3" height="7" fill="#000099"/>
<rect x="265" y="389" width="3" height="8" fill="#000099"/>
<rect x="269" y="391" width="3" height="6" fill="#ff0000"/>
<rect x="274" y="391" width="3" height="6" fill="#ff0000"/>
<rect x="278" y="357" width="3" height="40" fill="#ff0000"/>
<rect x="282" y="375" width="3" height="22" fill="#000099"/>
<rect x="287" y="385" width="3" height="12" fill="#ff0000"/>
<rect x="291" y="384" width="3" height="13" fill="#ff0000"/>
<rect x="295" y="388" width="3" height="9" fill="#ff0000"/>
<rect x="300" y="389" width="3" height="8" fill="#ff0000"/>
<rect x="304" y="387" width="3" height="10" fill="#ff0000"/>
<rect x="308" y="387" width="3" height="10" fill="#000099"/>
<rect x="313" y="388" width="3" height="9" fill="#000099"/>
<rect x="317" y="389" width="3" height="8" fill="#000099"/>
<rect x="322" y="382" width="3" height="15" fill="#ff0000"/>
<rect x="326" y="379" width="3" height="18" fill="#ff0000"/>
<rect x="330" y="386" width="3" height="11" fill="#ff0000"/>
<rect x="335" y="388" width="3" height="9" fill="#000099"/>
<rect x="339" y="388" width="3" height="9" fill="#000099"/>
<rect x="343" y="388" width="3" height="9" fill="#000099"/>
<rect x="348" y="389" width="3" height="8" fill="#ff0000"/>
<rect x="352" y="388" width="3" height="9" fill="#000099"/>
<rect x="356" y="388" width="3" height="9" fill="#000099"/>
<rect x="361" y="389" width="3" height="8" fill="#000099"/>
<rect x="365" y="390" width="3" height="7" fill="#ff0000"/>
<rect x="370" y="390" width="3" height="7" fill="#ff0000"/>
<rect x="374" y="390" width="3" height="7" fill="#ff0000"/>
<rect x="378" y="389" width="3" height="8" fill="#ff0000"/>
<rect x="383" y="390" width="3" height="7" fill="#888888"/>
<rect x="387" y="386" width="3" height="11" fill="#000099"/>
<rect x="391" y="389" width="3" height="8" fill="#000099"/>
<rect x="396" y="389" width="3" height="8" fill="#000099"/>
<rect x="400" y="390" width="3" height="7" fill="#ff0000"/>
<rect x="404" y="392" width="3" height="5" fill="#000099"/>
<rect x="409" y="390" width="3" height="7" fill="#000099"/>
<rect x="413" y="391" width="3" height="6" fill="#000099"/>
<rect x="418" y="391" width="3" height="6" fill="#000099"/>
<rect x="422" y="392" width="3" height="5" fill="#ff0000"/>
<rect x="426" y="391" width="3" height="6" fill="#ff0000"/>
<rect x="431" y="391" width="3" height="6" fill="#000099"/>
<rect x="435" y="392" width="3" height="5" fill="#888888"/>
<rect x="439" y="391" width="3" height="6" fill="#000099"/>
<rect x="444" y="391" width="3" height="6" fill="#ff0000"/>
<rect x="448" y="391" width="3" height="6" fill="#ff0000"/>
<rect x="453" y="390" width="3" height="7" fill="#ff0000"/>
<rect x="457" y="391" width="3" height="6" fill="#000099"/>
<rect x="461" y="391" width="3" height="6" fill="#000099"/>
<rect x="466" y="392" width="3" height="5" fill="#888888"/>
<rect x="470" y="391" width="3" height="6" fill="#000099"/>
<rect x="474" y="390" width="3" height="7" fill="#000099"/>
<rect x="479" y="392" width="3" height="5" fill="#ff0000"/>
<rect x="483" y="392" width="3" height="5" fill="#ff0000"/>
<rect x="487" y="392" width="3" height="5" fill="#000099"/>
<rect x="492" y="390" width="3" height="7" fill="#ff0000"/>
<rect x="496" y="390" width="3" height="7" fill="#000099"/>
<rect x="501" y="391" width="3" height="6" fill="#ff0000"/>
<rect x="505" y="392" width="3" height="5" fill="#000099"/>
<rect x="509" y="392" width="3" height="5" fill="#000099"/>
<rect x="514" y="390" width="3" height="7" fill="#ff0000"/>
<rect x="518" y="390" width="3" height="7" fill="#000099"/>
<rect x="522" y="391" width="3" height="6" fill="#ff0000"/>
<rect x="527" y="391" width="3" height="6" fill="#000099"/>
<rect x="531" y="391" width="3" height="6" fill="#000099"/>
<rect x="535" y="391" width="3" height="6" fill="#000099"/>
<rect x="540" y="390" width="3" height="7" fill="#000099"/>
<rect x="544" y="391" width="3" height="6" fill="#ff0000"/>
<rect x="549" y="391" width="3" height="6" fill="#ff0000"/>
<rect x="553" y="391" width="3" height="6" fill="#ff0000"/>
<rect x="557" y="340" width="3" height="57" fill="#ff0000"/>
</g>
<g class="cr"><rect x="11" y="326" width="126" height="13" fill="#eee" fill-opacity="1"/>
<path fill-rule="evenodd" fill="#999" d="M10,325h128v15h-128z M11,326h126v13h-126z"/></g>
<text x="10.5" y="336.5" font-size="12" fill="#3030c8"><tspan class="j">出来高</tspan><tspan x="56.6">20,014,700</tspan><tspan class="j">株</tspan></text>
<g font-size="10">
<text x="77.8" y="321.1">6</text>
<text x="77.8" y="406.1">6</text>
<text x="169.8" y="321.1">7</text>
<text x="169.8" y="406.1">7</text>
<text x="265.8" y="321.1">8</text>
<text x="265.8" y="406.1">8</text>
<text x="352.8" y="321.1">9</text>
<text x="352.8" y="406.1">9</text>
<text x="440.8" y="321.1">10</text>
<text x="440.8" y="406.1">10</text>
<text x="536.8" y="321.1">11</text>
<text x="536.8" y="406.1">11</text>
</g>
<g font-size="12" letter-spacing="-0.3">
<text x="582" y="81.2">240</text>
<text x="582" y="123.2">220</text>
<text x="582" y="164.2">200</text>
<text x="582" y="206.2">180</text>
<text x="582" y="248.2">160</text>
<text x="582" y="288.2">140</text>
<text x="582" y="384">500</text>
<text x="582" y="371">1000</text>
<text x="582" y="358">1500</text>
<text x="582" y="344">2000</text>
</g>
<text x="637.5" y="394.5" font-size="11" text-anchor="end" class="j">(万株)</text>
<g font-size="13">
<text x="13" y="24.6" font-size="12" class="j">日付</text>
<text x="40.3" y="24" font-size="14" textLength="82.6">2025/11/11</text>
<text x="159.5" y="24.6" font-size="12" class="j">始値</text>
<text x="187.4" y="24" font-size="14" font-weight="bold" fill="#0a0a16">197</text>
<text x="251" y="24.6" font-size="12" class="j">高値</text>
<text x="278.6" y="24" font-size="14" font-weight="bold" fill="#ff0000">247</text>
<text x="343" y="24.6" font-size="12" class="j">安値</text>
<text x="370.6" y="24" font-size="14" font-weight="bold" fill="#1a6e1a">195</text>
<text x="435" y="24.6" font-size="12" class="j">終値</text>
<text x="463" y="24" font-size="14" font-weight="bold" fill="#0a0a16">247</text>
</g>
<path d="M11,448 L11,430.3 L12.6,430 L14.2,430.3 L15.8,429.5 L17.4,429.8 L19,429.5 L20.6,429.2 L22.2,430 L23.8,429.8 L25.4,430.3 L27,429.8 L28.6,429.9 L30.2,430.7 L31.8,431.4 L33.4,430.9 L35,431 L36.6,431.3 L38.2,431.5 L39.8,431 L41.4,430.6 L43,431.2 L44.6,430.2 L46.2,431.2 L47.8,430.4 L49.4,430 L51,430.1 L52.6,431 L54.2,432 L55.8,431.6 L57.4,431.7 L59,431.4 L60.6,431.3 L62.2,431.7 L63.8,431.2 L65.4,431 L67,431 L68.6,431.9 L70.2,432.2 L71.8,432.2 L73.4,432.4 L75,432.4 L76.6,432.6 L78.2,433.2 L79.8,432.8 L81.4,432 L83,432.4 L84.6,432.6 L86.2,433.2 L87.8,432.6 L89.4,431.7 L91,432.4 L92.6,431.5 L94.2,431.9 L95.8,432.6 L97.4,432.3 L99,432.9 L100.6,432.5 L102.2,433 L103.8,433 L105.4,432.6 L107,432.7 L108.6,432 L110.2,432.3 L111.8,432 L113.4,431.8 L115,431.5 L116.6,431.7 L118.2,431.7 L119.8,431.1 L121.4,431.2 L123,431 L124.6,432 L126.2,431.7 L127.8,432 L129.4,432 L131,431.7 L132.6,431.8 L134.2,431.9 L135.8,431.1 L137.4,431.6 L139,431.4 L140.6,431.4 L142.2,431.2 L143.8,431.7 L145.4,431.1 L147,431.8 L148.6,432.4 L150.2,433.2 L151.8,432.5 L153.4,432.7 L155,432.6 L156.6,432.9 L158.2,433 L159.8,433.2 L161.4,432.3 L163,432.3 L164.6,432.1 L166.2,432.7 L167.8,432.8 L169.4,432.1 L171,432.4 L172.6,432.8 L174.2,433.1 L175.8,433.6 L177.4,433.9 L179,433.8 L180.6,433.7 L182.2,434.3 L183.8,433.9 L185.4,433.8 L187,434.2 L188.6,434.2 L190.2,433.9 L191.8,433.8 L193.4,434.1 L195,433.7 L196.6,435 L198.2,434.9 L199.8,435.1 L201.4,435 L203,434.7 L204.6,434.8 L206.2,434.7 L207.8,435.3 L209.4,434.6 L211,434.6 L212.6,434.8 L214.2,435 L215.8,435.4 L217.4,435 L219,434.9 L220.6,435.1 L222.2,435.3 L223.8,435.8 L225.4,435.7 L227,436.8 L228.6,436.5 L230.2,435.9 L231.8,435.9 L233.4,436.1 L235,436.3 L236.6,436.1 L238.2,437 L239.8,437.3 L241.4,436.8 L243,436.9 L244.6,436.5 L246.2,436.6 L247.8,436.8 L249.4,436.7 L251,437.3 L252.6,436.3 L254.2,436 L255.8,436.9 L257.4,436.5 L259,436.2 L260.6,436.5 L262.2,435.6 L263.8,435.9 L265.4,436.4 L267,436.4 L268.6,435.5 L270.2,435.4 L271.8,435.3 L273.4,434.9 L275,433.3 L276.6,433.1 L278.2,432.6 L279.8,432.7 L281.4,432.4 L283,432.7 L284.6,431.9 L286.2,432.7 L287.8,432.7 L289.4,432.5 L291,432.1 L292.6,430.4 L294.2,431.1 L295.8,431.3 L297.4,430.5 L299,429.9 L300.6,430.1 L302.2,430.9 L303.8,431.2 L305.4,431.2 L307,430.4 L308.6,430.2 L310.2,429 L311.8,428 L313.4,426.3 L315,424.7 L316.6,423.3 L318.2,425.1 L319.8,426.5 L321.4,427.7 L323,427.7 L324.6,427.1 L326.2,426.3 L327.8,427.4 L329.4,427.4 L331,426.1 L332.6,425.8 L334.2,426.5 L335.8,427 L337.4,427 L339,425.8 L340.6,425.5 L342.2,424.9 L343.8,423.9 L345.4,422.1 L347,424.1 L348.6,423 L350.2,424.9 L351.8,425.9 L353.4,426.5 L355,425.8 L356.6,425.7 L358.2,426.6 L359.8,427.1 L361.4,426.7 L363,425.2 L364.6,425.6 L366.2,426.3 L367.8,425.5 L369.4,424.9 L371,425.3 L372.6,425.1 L374.2,425.5 L375.8,426.6 L377.4,426.5 L379,427 L380.6,428.2 L382.2,428.4 L383.8,428.3 L385.4,428.7 L387,428.9 L388.6,429.3 L390.2,429.1 L391.8,429.9 L393.4,429.8 L395,429.6 L396.6,430.4 L398.2,430.5 L399.8,432.3 L401.4,434 L403,435.6 L404.6,436.3 L406.2,437.1 L407.8,437.1 L409.4,438.2 L411,438.1 L412.6,438.5 L414.2,438.3 L415.8,437.6 L417.4,437.9 L419,437.8 L420.6,437.7 L422.2,438.6 L423.8,437.9 L425.4,438.2 L427,438.4 L428.6,438.2 L430.2,437.9 L431.8,438 L433.4,438 L435,438.2 L436.6,437.4 L438.2,437.9 L439.8,437.4 L441.4,437.3 L443,437.8 L444.6,437.2 L446.2,436.9 L447.8,436.5 L449.4,436.3 L451,436.9 L452.6,437.3 L454.2,436.8 L455.8,436.4 L457.4,436.2 L459,435.7 L460.6,436.6 L462.2,437.5 L463.8,439 L465.4,439.3 L467,439.1 L468.6,438.7 L470.2,437.5 L471.8,437.7 L473.4,437.9 L475,437.9 L476.6,437.2 L478.2,437.3 L479.8,437.7 L480.5,437.8 L480.5,448 Z" fill="#eeeeee"/>
<polyline fill="none" stroke="#8e8e8e" stroke-width="1.5" stroke-linejoin="round" stroke-linejoin="miter" points="11,430.3 12.6,430 14.2,430.3 15.8,429.5 17.4,429.8 19,429.5 20.6,429.2 22.2,430 23.8,429.8 25.4,430.3 27,429.8 28.6,429.9 30.2,430.7 31.8,431.4 33.4,430.9 35,431 36.6,431.3 38.2,431.5 39.8,431 41.4,430.6 43,431.2 44.6,430.2 46.2,431.2 47.8,430.4 49.4,430 51,430.1 52.6,431 54.2,432 55.8,431.6 57.4,431.7 59,431.4 60.6,431.3 62.2,431.7 63.8,431.2 65.4,431 67,431 68.6,431.9 70.2,432.2 71.8,432.2 73.4,432.4 75,432.4 76.6,432.6 78.2,433.2 79.8,432.8 81.4,432 83,432.4 84.6,432.6 86.2,433.2 87.8,432.6 89.4,431.7 91,432.4 92.6,431.5 94.2,431.9 95.8,432.6 97.4,432.3 99,432.9 100.6,432.5 102.2,433 103.8,433 105.4,432.6 107,432.7 108.6,432 110.2,432.3 111.8,432 113.4,431.8 115,431.5 116.6,431.7 118.2,431.7 119.8,431.1 121.4,431.2 123,431 124.6,432 126.2,431.7 127.8,432 129.4,432 131,431.7 132.6,431.8 134.2,431.9 135.8,431.1 137.4,431.6 139,431.4 140.6,431.4 142.2,431.2 143.8,431.7 145.4,431.1 147,431.8 148.6,432.4 150.2,433.2 151.8,432.5 153.4,432.7 155,432.6 156.6,432.9 158.2,433 159.8,433.2 161.4,432.3 163,432.3 164.6,432.1 166.2,432.7 167.8,432.8 169.4,432.1 171,432.4 172.6,432.8 174.2,433.1 175.8,433.6 177.4,433.9 179,433.8 180.6,433.7 182.2,434.3 183.8,433.9 185.4,433.8 187,434.2 188.6,434.2 190.2,433.9 191.8,433.8 193.4,434.1 195,433.7 196.6,435 198.2,434.9 199.8,435.1 201.4,435 203,434.7 204.6,434.8 206.2,434.7 207.8,435.3 209.4,434.6 211,434.6 212.6,434.8 214.2,435 215.8,435.4 217.4,435 219,434.9 220.6,435.1 222.2,435.3 223.8,435.8 225.4,435.7 227,436.8 228.6,436.5 230.2,435.9 231.8,435.9 233.4,436.1 235,436.3 236.6,436.1 238.2,437 239.8,437.3 241.4,436.8 243,436.9 244.6,436.5 246.2,436.6 247.8,436.8 249.4,436.7 251,437.3 252.6,436.3 254.2,436 255.8,436.9 257.4,436.5 259,436.2 260.6,436.5 262.2,435.6 263.8,435.9 265.4,436.4 267,436.4 268.6,435.5 270.2,435.4 271.8,435.3 273.4,434.9 275,433.3 276.6,433.1 278.2,432.6 279.8,432.7 281.4,432.4 283,432.7 284.6,431.9 286.2,432.7 287.8,432.7 289.4,432.5 291,432.1 292.6,430.4 294.2,431.1 295.8,431.3 297.4,430.5 299,429.9 300.6,430.1 302.2,430.9 303.8,431.2 305.4,431.2 307,430.4 308.6,430.2 310.2,429 311.8,428 313.4,426.3 315,424.7 316.6,423.3 318.2,425.1 319.8,426.5 321.4,427.7 323,427.7 324.6,427.1 326.2,426.3 327.8,427.4 329.4,427.4 331,426.1 332.6,425.8 334.2,426.5 335.8,427 337.4,427 339,425.8 340.6,425.5 342.2,424.9 343.8,423.9 345.4,422.1 347,424.1 348.6,423 350.2,424.9 351.8,425.9 353.4,426.5 355,425.8 356.6,425.7 358.2,426.6 359.8,427.1 361.4,426.7 363,425.2 364.6,425.6 366.2,426.3 367.8,425.5 369.4,424.9 371,425.3 372.6,425.1 374.2,425.5 375.8,426.6 377.4,426.5 379,427 380.6,428.2 382.2,428.4 383.8,428.3 385.4,428.7 387,428.9 388.6,429.3 390.2,429.1 391.8,429.9 393.4,429.8 395,429.6 396.6,430.4 398.2,430.5 399.8,432.3 401.4,434 403,435.6 404.6,436.3 406.2,437.1 407.8,437.1 409.4,438.2 411,438.1 412.6,438.5 414.2,438.3 415.8,437.6 417.4,437.9 419,437.8 420.6,437.7 422.2,438.6 423.8,437.9 425.4,438.2 427,438.4 428.6,438.2 430.2,437.9 431.8,438 433.4,438 435,438.2 436.6,437.4 438.2,437.9 439.8,437.4 441.4,437.3 443,437.8 444.6,437.2 446.2,436.9 447.8,436.5 449.4,436.3 451,436.9 452.6,437.3 454.2,436.8 455.8,436.4 457.4,436.2 459,435.7 460.6,436.6 462.2,437.5 463.8,439 465.4,439.3 467,439.1 468.6,438.7 470.2,437.5 471.8,437.7 473.4,437.9 475,437.9 476.6,437.2 478.2,437.3 479.8,437.7 480.5,437.8"/>
<g fill="#fff" fill-opacity="0.9"><rect x="35.8" y="411" width="1.8" height="37"/><rect x="226" y="411" width="1.6" height="37"/><rect x="415.8" y="411" width="1.6" height="37"/></g>
<path d="M481,448 L481,438.2 L487.8,438.3 L490,437.2 L493.4,436.5 L495,437.4 L497.1,438.3 L499,437.2 L500.8,436.5 L502.5,437.3 L504.5,437.7 L508,436.8 L511,436.4 L514.4,435.9 L517,436.6 L520.6,437.1 L523,436.2 L527.3,435.2 L528.3,433.4 L529.2,431.5 L530.4,434 L533,433.2 L535,432 L536.6,431.5 L538,432.6 L539.5,434 L542,433.4 L544,432.6 L546,432.4 L549,433.2 L552,434 L554.7,434.4 L558,433.6 L560.9,434 L564,433.6 L566,432.8 L568.3,433.1 L570,434 L572,434.6 L576,434.2 L579,434 L579,448 Z" fill="#bcc6f6"/>
<polyline fill="none" stroke="#6060bc" stroke-width="1.15" stroke-linejoin="round"  points="481,438.2 487.8,438.3 490,437.2 493.4,436.5 495,437.4 497.1,438.3 499,437.2 500.8,436.5 502.5,437.3 504.5,437.7 508,436.8 511,436.4 514.4,435.9 517,436.6 520.6,437.1 523,436.2 527.3,435.2 528.3,433.4 529.2,431.5 530.4,434 533,433.2 535,432 536.6,431.5 538,432.6 539.5,434 542,433.4 544,432.6 546,432.4 549,433.2 552,434 554.7,434.4 558,433.6 560.9,434 564,433.6 566,432.8 568.3,433.1 570,434 572,434.6 576,434.2 579,434"/>
<g font-size="10"><text x="37.6" y="443.8">23</text><text x="227.8" y="443.8">24</text><text x="417.4" y="443.8">25</text></g>
<g class="cr"><rect x="480" y="410" width="1" height="39" fill="#1e9be0"/><rect x="579" y="410" width="1" height="39" fill="#1e9be0"/></g>
<g class="cr"><rect x="489" y="449" width="82" height="10" fill="#000"/><rect x="490" y="449" width="80" height="10" fill="url(#gth)"/></g>
<rect x="474.5" y="415.5" width="13" height="29" fill="url(#gh)" stroke="#222" stroke-width="1" class="cr"/>
<path d="M478.6,429 L483,425 L483,433 Z" fill="#000"/>
<rect x="572.5" y="415.5" width="13" height="29" fill="url(#gh)" stroke="#222" stroke-width="1" class="cr"/>
<path d="M581.4,429 L577,425 L577,433 Z" fill="#000"/>
</svg></body></html>
